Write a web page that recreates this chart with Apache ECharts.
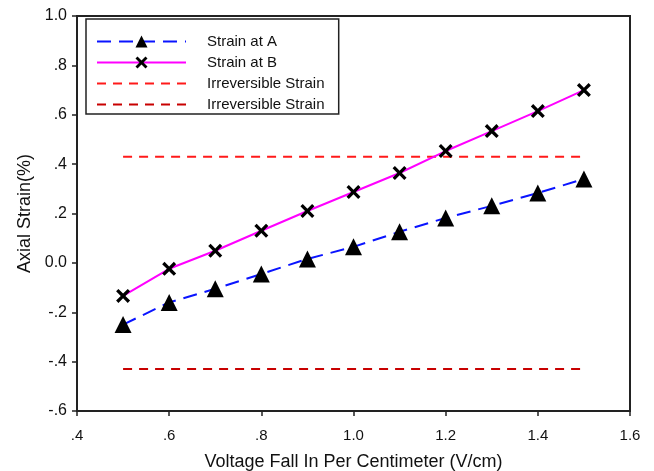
<!DOCTYPE html>
<html>
<head>
<meta charset="utf-8">
<script src="https://cdn.jsdelivr.net/npm/echarts@6/dist/echarts.min.js"></script>
<style>
  html, body { margin: 0; padding: 0; background: #fff; }
  #chart { width: 654px; height: 471px; }
</style>
</head>
<body>
<div id="chart"></div>
<script>
// values
var voltage = [0.5, 0.6, 0.7, 0.8, 0.9, 1.0, 1.1, 1.2, 1.3, 1.4, 1.5];
var strainA = [-0.25, -0.16, -0.105, -0.045, 0.016, 0.065, 0.126, 0.182, 0.231, 0.283, 0.34];
var strainB = [-0.134, -0.024, 0.049, 0.13, 0.21, 0.287, 0.364, 0.453, 0.534, 0.615, 0.70];
var limitX = [0.5, 1.5];
var limitUpper = [0.43, 0.43];
var limitLower = [-0.43, -0.43];

var crossPath = 'path://M2,0 L6,4 L10,0 L12,2 L8,6 L12,10 L10,12 L6,8 L2,12 L0,10 L4,6 L0,2 Z';

function pairs(xs, ys) {
	var out = [];
	for (var i = 0; i < xs.length; i++) {
		out.push([xs[i], ys[i]]);
	}
	return out;
}

// SigmaPlot style tick text: ".4", "-.2", "0.0", "1.0"
function tickText(v) {
	var s = v.toFixed(1);
	if (s === '0.0' || s === '-0.0') return '0.0';
	return s.replace(/^(-?)0\./, '$1.');
}

var chart = echarts.init(document.getElementById('chart'));

var font = 'Liberation Sans';

function axisBase(labelSize, labelMargin) {
	return {
		axisLine: { show: true, onZero: false, lineStyle: { color: '#222', width: 2 } },
		axisTick: { show: true, inside: false, length: 5, lineStyle: { color: '#222', width: 1.5 } },
		splitLine: { show: false },
		axisLabel: { color: '#111', fontSize: labelSize, margin: labelMargin, fontFamily: font, formatter: tickText },
		nameTextStyle: { color: '#111', fontSize: 18, fontFamily: font }
	};
}

var option = {
	animation: false,
	backgroundColor: '#fff',
	grid: {
		left: 77, right: 24, top: 16, bottom: 60,
		outerBoundsMode: 'none',
		containLabel: false,
		show: true, borderColor: '#222', borderWidth: 2, backgroundColor: 'transparent'
	},
	legend: {
		orient: 'vertical',
		left: 86,
		top: 19,
		itemWidth: 89,
		itemHeight: 15,
		itemGap: 6,
		padding: [15, 10, 2, 10],
		borderColor: '#222',
		borderWidth: 1.5,
		backgroundColor: '#fff',
		textStyle: { color: '#111', fontSize: 15, fontFamily: font, padding: [0, 0, 0, 16] },
		data: [
			{ name: 'Strain at A' },
			{ name: 'Strain at B' },
			{ name: 'Irreversible Strain', itemStyle: { opacity: 0 } },
			{ name: 'Irreversible Strain ', itemStyle: { opacity: 0 } }
		]
	},
	xAxis: echarts.util.merge({
		type: 'value',
		min: 0.4, max: 1.6, interval: 0.2,
		name: 'Voltage Fall In Per Centimeter (V/cm)',
		nameLocation: 'middle',
		nameGap: 42
	}, axisBase(15, 17)),
	yAxis: echarts.util.merge({
		type: 'value',
		min: -0.6, max: 1.0, interval: 0.2,
		name: 'Axial Strain(%)',
		nameLocation: 'middle',
		nameGap: 42
	}, axisBase(16, 10)),
	series: [
		{
			name: 'Irreversible Strain',
			type: 'line',
			data: pairs(limitX, limitUpper),
			symbol: 'none',
			z: 1,
			lineStyle: { color: '#ff1a1a', width: 2, type: [9, 7] },
			itemStyle: { color: '#ff1a1a' }
		},
		{
			name: 'Irreversible Strain ',
			type: 'line',
			data: pairs(limitX, limitLower),
			symbol: 'none',
			z: 1,
			lineStyle: { color: '#c80000', width: 2, type: [9, 7] },
			itemStyle: { color: '#c80000' }
		},
		{
			name: 'Strain at A',
			type: 'line',
			data: pairs(voltage, strainA),
			symbol: 'triangle',
			symbolSize: 17,
			showAllSymbol: true,
			z: 3,
			lineStyle: { color: '#0a14ff', width: 2, type: [14, 8] },
			itemStyle: { color: '#000', borderWidth: 0 }
		},
		{
			name: 'Strain at B',
			type: 'line',
			data: pairs(voltage, strainB),
			symbol: crossPath,
			symbolSize: 14,
			showAllSymbol: true,
			z: 4,
			lineStyle: { color: '#ff00ff', width: 2 },
			itemStyle: { color: '#000', borderWidth: 0 }
		}
	]
};

chart.setOption(option);
</script>
</body>
</html>
